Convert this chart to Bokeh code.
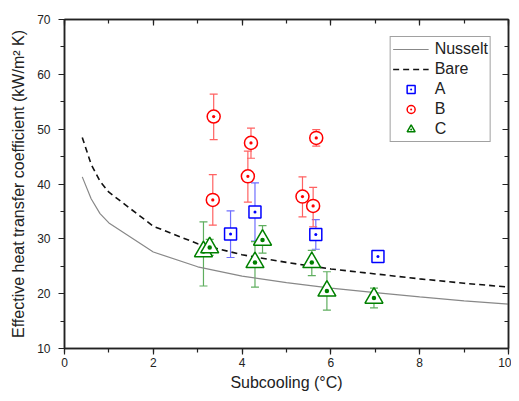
from bokeh.plotting import figure
from bokeh.models import (ColumnDataSource, Whisker, TeeHead, LinearAxis, Range1d,
                          SingleIntervalTicker, Legend, LegendItem)
from bokeh.embed import file_html
from bokeh.resources import INLINE

# ---- data ----
curve_x = [0.4, 0.6, 0.8, 1.0, 2.0, 3.0, 4.0, 5.0, 6.0, 7.0, 8.0, 9.0, 10.0]
nusselt_y = [41.3, 37.3, 34.6, 32.9, 27.6, 24.9, 23.2, 22.0, 21.0, 20.2, 19.4, 18.7, 18.1]
bare_y = [48.5, 43.6, 40.5, 38.5, 32.3, 29.1, 27.1, 25.7, 24.5, 23.6, 22.7, 21.9, 21.2]

a_x = [3.74, 4.29, 5.66, 7.06]
a_y = [30.9, 34.9, 30.8, 26.8]
a_hi = [35.1, 40.2, 33.5, 27.2]
a_lo = [26.6, 29.6, 28.1, 26.4]

b_x = [3.36, 4.20, 5.67, 4.13, 3.34, 5.36, 5.60]
b_y = [52.3, 47.5, 48.4, 41.4, 37.1, 37.7, 36.0]
b_hi = [56.4, 50.2, 49.9, 46.0, 41.7, 41.3, 39.4]
b_lo = [48.1, 44.7, 46.9, 36.7, 32.5, 34.0, 32.2]

c_x = [3.13, 3.27, 4.29, 4.46, 5.57, 5.91, 6.97]
c_y = [27.7, 28.4, 25.7, 29.8, 25.7, 20.5, 19.2]
c_hi = [33.1, 29.9, 29.5, 32.4, 27.9, 24.0, 21.0]
c_lo = [21.4, 27.0, 21.2, 27.4, 23.3, 17.0, 17.4]

FONT = "Liberation Sans"
TXT = "#222222"

p = figure(width=511, height=393, output_backend="svg", toolbar_location=None,
           x_range=Range1d(0, 10), y_range=Range1d(10, 70),
           min_border_left=64, min_border_top=19, min_border_right=3, min_border_bottom=42)
p.xgrid.visible = False
p.ygrid.visible = False
p.outline_line_color = "#222222"
p.outline_line_width = 1.5
p.background_fill_color = "white"
p.border_fill_color = "white"

xt = SingleIntervalTicker(interval=2, num_minor_ticks=2)
yt = SingleIntervalTicker(interval=10, num_minor_ticks=2)

ax = p.xaxis[0]
ax.ticker = xt
ax.axis_label = "Subcooling (°C)"
ay = p.yaxis[0]
ay.ticker = yt
ay.axis_label = "Effective heat transfer coefficient (kW/m² K)"
for a in (ax, ay):
    a.axis_line_width = 1.5
    a.axis_line_color = TXT
    a.major_tick_line_color = TXT
    a.minor_tick_line_color = TXT
    a.major_tick_line_width = 1.2
    a.minor_tick_line_width = 1.2
    a.major_tick_in = 0
    a.major_tick_out = 6
    a.minor_tick_in = 0
    a.minor_tick_out = 4
    a.major_label_text_font = FONT
    a.major_label_text_font_size = "12px"
    a.major_label_text_color = TXT
    a.axis_label_text_font = FONT
    a.axis_label_text_font_size = "16px"
    a.axis_label_text_font_style = "normal"
    a.axis_label_text_color = TXT
ax.major_label_standoff = 3
ax.axis_label_standoff = 4
ay.major_label_standoff = 8
ay.axis_label_standoff = 7

# mirrored axes (ticks inward, no labels)
top = LinearAxis(ticker=SingleIntervalTicker(interval=2, num_minor_ticks=2))
right = LinearAxis(ticker=SingleIntervalTicker(interval=10, num_minor_ticks=2))
for a in (top, right):
    a.axis_line_width = 1.5
    a.axis_line_color = TXT
    a.major_tick_line_color = TXT
    a.minor_tick_line_color = TXT
    a.major_tick_line_width = 1.2
    a.minor_tick_line_width = 1.2
    a.major_tick_in = 6
    a.major_tick_out = 0
    a.minor_tick_in = 4
    a.minor_tick_out = 0
    a.major_label_text_font_size = "0px"
    a.major_label_text_color = None
    a.major_label_standoff = 0
p.add_layout(top, "above")
p.add_layout(right, "right")

# curves
r_nus = p.line(curve_x, nusselt_y, line_color="#888888", line_width=1.2)
r_bare = p.line(curve_x, bare_y, line_color="#111111", line_width=1.6, line_dash="6 4")

def add_series(xs, ys, los, his, color, bar_color, marker, size):
    src = ColumnDataSource(dict(x=xs, y=ys, lo=los, hi=his))
    w = Whisker(source=src, base="x", lower="lo", upper="hi", dimension="height",
                line_color=bar_color, line_width=1.2, level="underlay",
                upper_head=TeeHead(size=8, line_color=bar_color, line_width=1.2),
                lower_head=TeeHead(size=8, line_color=bar_color, line_width=1.2))
    p.add_layout(w)
    r = p.scatter("x", "y", source=src, marker=marker, size=size, line_color=color,
                  line_width=1.5, fill_color="white")
    return r

r_a = add_series(a_x, a_y, a_lo, a_hi, "#0000FF", "#6F6FFF", "square_dot", 12)
r_b = add_series(b_x, b_y, b_lo, b_hi, "#FF0000", "#FF6262", "circle_dot", 13)
r_c = add_series(c_x, c_y, c_lo, c_hi, "#008000", "#5FAE5F", "triangle_dot", 18)

legend = Legend(items=[
    LegendItem(label="Nusselt", renderers=[r_nus]),
    LegendItem(label="Bare", renderers=[r_bare]),
    LegendItem(label="A", renderers=[r_a]),
    LegendItem(label="B", renderers=[r_b]),
    LegendItem(label="C", renderers=[r_c]),
], location="top_right")
legend.margin = 17
legend.padding = 2
legend.spacing = 0
legend.glyph_width = 36
legend.glyph_height = 20
legend.label_height = 16
legend.label_standoff = 6
legend.label_text_font = FONT
legend.label_text_font_size = "16px"
legend.label_text_color = TXT
legend.border_line_color = "#444444"
legend.border_line_width = 1.5
legend.background_fill_color = "white"
legend.background_fill_alpha = 1.0
p.add_layout(legend)

open("out.html", "w").write(file_html(p, INLINE))
